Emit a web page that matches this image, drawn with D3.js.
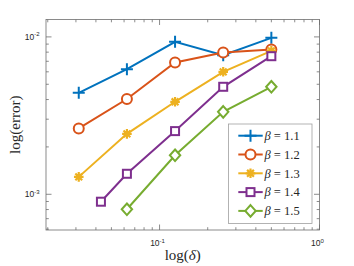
<!DOCTYPE html>
<html>
<head>
<meta charset="utf-8">
<script src="https://cdn.jsdelivr.net/npm/d3@7"></script>
<style>
  body { margin: 0; background: #fff; }
  svg { display: block; }
</style>
</head>
<body>
<div class="canvas"></div>
<script>
// data
const deltas = [1/32, 1/16, 1/8, 1/4, 1/2];
const deltasB14 = [0.043, 1/16, 1/8, 1/4, 1/2];
const deltasB15 = [1/16, 1/8, 1/4, 1/2];

const errB11 = [4.41e-3, 6.24e-3, 9.30e-3, 7.65e-3, 9.86e-3];
const errB12 = [2.62e-3, 4.03e-3, 6.88e-3, 7.96e-3, 8.32e-3];
const errB13 = [1.29e-3, 2.42e-3, 3.87e-3, 6.00e-3, 8.15e-3];
const errB14 = [8.97e-4, 1.35e-3, 2.52e-3, 4.82e-3, 7.54e-3];
const errB15 = [8.03e-4, 1.77e-3, 3.34e-3, 4.82e-3];

const betaLabels = ['1.1', '1.2', '1.3', '1.4', '1.5'];
const xTicks = [0.1, 1];
const yTicks = [1e-3, 1e-2];

const series = [
    { beta: betaLabels[0], xs: deltas, ys: errB11, color: '#0072BD', marker: 'plus' },
    { beta: betaLabels[1], xs: deltas, ys: errB12, color: '#D95319', marker: 'circle' },
    { beta: betaLabels[2], xs: deltas, ys: errB13, color: '#EDB120', marker: 'star' },
    { beta: betaLabels[3], xs: deltasB14, ys: errB14, color: '#7E2F8E', marker: 'square' },
    { beta: betaLabels[4], xs: deltasB15, ys: errB15, color: '#77AC30', marker: 'diamond' }
];

const dim = { width: 354, height: 266 };
const margin = { left: 46, top: 19.5, right: 34.5, bottom: 36 };
const iw = dim.width - margin.left - margin.right;
const ih = dim.height - margin.top - margin.bottom;

const svg = d3.select('.canvas').append('svg')
    .attr('width', dim.width)
    .attr('height', dim.height);

const x = d3.scaleLog().domain([0.0195, 1]).range([0, iw]);
const y = d3.scaleLog().domain([5.93e-4, 1.29e-2]).range([ih, 0]);

const graph = svg.append('g')
    .attr('transform', `translate(${margin.left}, ${margin.top})`);

graph.append('rect')
    .attr('width', iw).attr('height', ih)
    .attr('fill', '#fff');

// minor + major ticks (inside, on all four sides)
const axisColor = '#6e6e6e';
const minorX = [];
for (let e = -2; e <= 0; e++) for (let k = 1; k <= 9; k++) {
    const v = k * Math.pow(10, e);
    if (v >= x.domain()[0] && v <= x.domain()[1]) minorX.push({ v, major: k === 1 });
}
const minorY = [];
for (let e = -4; e <= -2; e++) for (let k = 1; k <= 9; k++) {
    const v = k * Math.pow(10, e);
    if (v >= y.domain()[0] && v <= y.domain()[1]) minorY.push({ v, major: k === 1 });
}

const ticks = graph.append('g')
    .attr('stroke', axisColor).attr('stroke-width', 0.8);

minorX.forEach(t => {
    const len = t.major ? 5.5 : 2.8;
    const px = x(t.v);
    ticks.append('line').attr('x1', px).attr('x2', px).attr('y1', ih).attr('y2', ih - len);
    ticks.append('line').attr('x1', px).attr('x2', px).attr('y1', 0).attr('y2', len);
});
minorY.forEach(t => {
    const len = t.major ? 5.5 : 2.8;
    const py = y(t.v);
    ticks.append('line').attr('y1', py).attr('y2', py).attr('x1', 0).attr('x2', len);
    ticks.append('line').attr('y1', py).attr('y2', py).attr('x1', iw).attr('x2', iw - len);
});

graph.append('rect')
    .attr('width', iw).attr('height', ih)
    .attr('fill', 'none')
    .attr('stroke', axisColor).attr('stroke-width', 0.8);

// tick labels
const tickFont = 'Liberation Sans, Arial, sans-serif';
const expOf = v => Math.round(Math.log10(v));

const xl = graph.append('g').attr('font-family', tickFont).attr('fill', '#262626');
xTicks.forEach(v => {
    const t = xl.append('text')
        .attr('x', x(v) - 2).attr('y', ih + 16)
        .attr('text-anchor', 'middle')
        .attr('font-size', 8.5);
    t.append('tspan').text('10');
    t.append('tspan').attr('dy', -3.5).attr('font-size', 6).text(expOf(v));
});

const yl = graph.append('g').attr('font-family', tickFont).attr('fill', '#262626');
yTicks.forEach(v => {
    const t = yl.append('text')
        .attr('x', -6.5).attr('y', y(v) + 3)
        .attr('text-anchor', 'end')
        .attr('font-size', 8.5);
    t.append('tspan').text('10');
    t.append('tspan').attr('dy', -3.5).attr('font-size', 6).text(expOf(v));
});

// axis titles
const serif = 'Liberation Serif, Times New Roman, serif';
svg.append('text')
    .attr('x', margin.left + iw / 2).attr('y', 260)
    .attr('text-anchor', 'middle')
    .attr('font-family', serif).attr('font-size', 15).attr('fill', '#262626')
    .html('log(<tspan font-style="italic">δ</tspan>)');

svg.append('text')
    .attr('transform', `translate(20, ${margin.top + ih / 2}) rotate(-90)`)
    .attr('text-anchor', 'middle')
    .attr('font-family', serif).attr('font-size', 15).attr('fill', '#262626')
    .text('log(error)');

// markers
const drawMarker = (sel, type, color) => {
    const g = sel.append('g')
        .attr('stroke', color).attr('stroke-width', 2).attr('fill', 'none');
    if (type === 'plus') {
        g.append('path').attr('d', 'M-6,0H6M0,-6V6');
    } else if (type === 'circle') {
        g.append('circle').attr('r', 5).attr('fill', '#fff');
    } else if (type === 'star') {
        g.append('path').attr('d', 'M-4.8,0H4.8M0,-4.8V4.8M-3.4,-3.4L3.4,3.4M-3.4,3.4L3.4,-3.4')
            .attr('stroke-width', 2.2);
    } else if (type === 'square') {
        g.append('rect').attr('x', -4).attr('y', -4).attr('width', 8).attr('height', 8)
            .attr('fill', '#fff');
    } else if (type === 'diamond') {
        g.append('path').attr('d', 'M0,-5.8L5.2,0L0,5.8L-5.2,0Z').attr('fill', '#fff');
    }
};

const line = d3.line().x(d => x(d[0])).y(d => y(d[1]));

series.forEach(s => {
    const pts = s.xs.map((v, i) => [v, s.ys[i]]);
    const sg = graph.append('g');
    sg.append('path')
        .attr('d', line(pts))
        .attr('fill', 'none')
        .attr('stroke', s.color)
        .attr('stroke-width', 2);
    pts.forEach(p => {
        drawMarker(sg.append('g').attr('transform', `translate(${x(p[0])}, ${y(p[1])})`), s.marker, s.color);
    });
});

// legend
const lg = svg.append('g').attr('transform', 'translate(228.5, 124)');
lg.append('rect')
    .attr('width', 83.5).attr('height', 99.5)
    .attr('fill', '#fff')
    .attr('stroke', '#a0a0a0').attr('stroke-width', 0.8);

series.forEach((s, i) => {
    const row = lg.append('g').attr('transform', `translate(0, ${11.7 + i * 18.8})`);
    row.append('line')
        .attr('x1', 9.8).attr('x2', 34.2)
        .attr('stroke', s.color).attr('stroke-width', 2);
    drawMarker(row.append('g').attr('transform', 'translate(22, 0)'), s.marker, s.color);
    const t = row.append('text')
        .attr('x', 36).attr('y', 4.3)
        .attr('font-family', serif).attr('font-size', 12.5).attr('fill', '#262626');
    t.append('tspan').attr('font-style', 'italic').text('β');
    t.append('tspan').text(` = ${s.beta}`);
});
</script>
</body>
</html>
